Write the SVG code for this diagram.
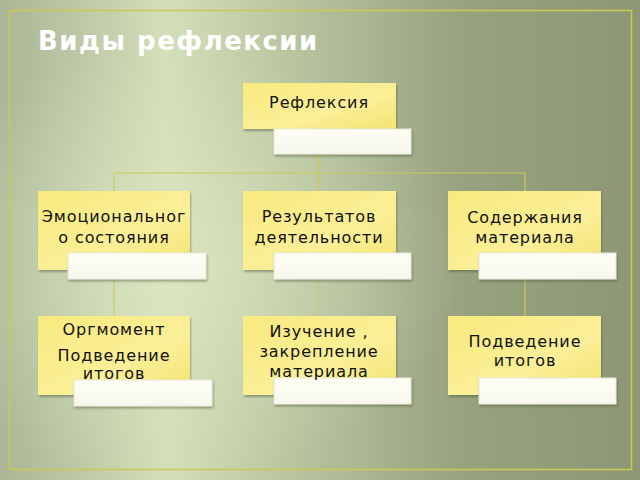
<svg xmlns="http://www.w3.org/2000/svg" width="640" height="480" viewBox="0 0 640 480">
<defs>
<linearGradient id="bg" x1="0" y1="0" x2="1" y2="0">
<stop offset="0" stop-color="#a9b595"/>
<stop offset="0.26" stop-color="#d3dfb8"/>
<stop offset="0.5" stop-color="#b3bf9a"/>
<stop offset="0.72" stop-color="#97a27e"/>
<stop offset="1" stop-color="#8d9776"/>
</linearGradient>
<radialGradient id="glow" cx="0.27" cy="0.55" r="0.45">
<stop offset="0" stop-color="#e2ebc8" stop-opacity="0.6"/>
<stop offset="1" stop-color="#e2ebc8" stop-opacity="0"/>
</radialGradient>
<linearGradient id="yel" x1="0" y1="0" x2="1" y2="1">
<stop offset="0" stop-color="#f8ea7e"/>
<stop offset="0.6" stop-color="#fbef98"/>
<stop offset="1" stop-color="#f3e370"/>
</linearGradient>
<linearGradient id="wht" x1="0" y1="0" x2="0" y2="1">
<stop offset="0" stop-color="#fefef4"/>
<stop offset="1" stop-color="#f7f7ee"/>
</linearGradient>
<filter id="sh" x="-10%" y="-10%" width="125%" height="130%">
<feDropShadow dx="1" dy="2" stdDeviation="1" flood-color="#4a4f30" flood-opacity="0.45"/>
</filter>
</defs>
<style>
.y{fill:url(#yel);filter:url(#sh)}
.w{fill:url(#wht);stroke:#e8e8d8;stroke-width:1;filter:url(#sh)}
.t{font-family:"DejaVu Sans",Verdana,sans-serif;font-size:16px;fill:#111;text-anchor:middle;letter-spacing:0.9px}
.c{stroke:#cdc85a;stroke-width:1.2;fill:none}
</style>
<rect width="640" height="480" fill="url(#bg)"/>
<rect width="640" height="480" fill="url(#glow)"/>
<rect x="9.5" y="10.5" width="622" height="459" fill="none" stroke="#c9c955" stroke-width="1.6"/>
<text x="38" y="50" font-family="DejaVu Sans,sans-serif" font-weight="bold" font-size="26" fill="#ffffff" letter-spacing="1.5">Виды рефлексии</text>
<g id="connectors">
<line class="c" x1="319" y1="154" x2="319" y2="191"/>
<line class="c" x1="114" y1="173" x2="525" y2="173"/>
<line class="c" x1="114" y1="173" x2="114" y2="316"/>
<line class="c" x1="525" y1="173" x2="525" y2="316"/>
<line class="c" x1="318" y1="279" x2="318" y2="316" opacity="0.5"/>
</g>
<g id="n-refleksiya">
<rect class="y" x="243" y="83" width="153" height="46"/>
<rect class="w" x="274" y="129" width="137" height="25"/>
<text class="t" x="319" y="108">Рефлексия</text>
</g>
<g id="n-emotsion">
<rect class="y" x="38" y="191" width="152" height="79"/>
<rect class="w" x="68" y="253" width="138" height="26"/>
<text class="t" x="114" y="222">Эмоциональног</text>
<text class="t" x="114" y="243">о состояния</text>
</g>
<g id="n-rezultat">
<rect class="y" x="243" y="191" width="153" height="79"/>
<rect class="w" x="274" y="253" width="137" height="26"/>
<text class="t" x="319" y="222">Результатов</text>
<text class="t" x="319" y="243">деятельности</text>
</g>
<g id="n-soderzh">
<rect class="y" x="448" y="191" width="153" height="79"/>
<rect class="w" x="479" y="253" width="137" height="26"/>
<text class="t" x="525" y="223">Содержания</text>
<text class="t" x="525" y="243">материала</text>
</g>
<g id="n-orgmoment">
<rect class="y" x="38" y="316" width="152" height="79"/>
<rect class="w" x="74" y="380" width="138" height="26"/>
<text class="t" x="114" y="335">Оргмомент</text>
<text class="t" x="114" y="361">Подведение</text>
<text class="t" x="114" y="379">итогов</text>
</g>
<g id="n-izuchenie">
<rect class="y" x="243" y="316" width="153" height="79"/>
<rect class="w" x="274" y="378" width="137" height="26"/>
<text class="t" x="319" y="337">Изучение ,</text>
<text class="t" x="319" y="357">закрепление</text>
<text class="t" x="319" y="377">материала</text>
</g>
<g id="n-podvedenie">
<rect class="y" x="448" y="316" width="153" height="79"/>
<rect class="w" x="479" y="378" width="137" height="26"/>
<text class="t" x="525" y="347">Подведение</text>
<text class="t" x="525" y="366">итогов</text>
</g>
</svg>
